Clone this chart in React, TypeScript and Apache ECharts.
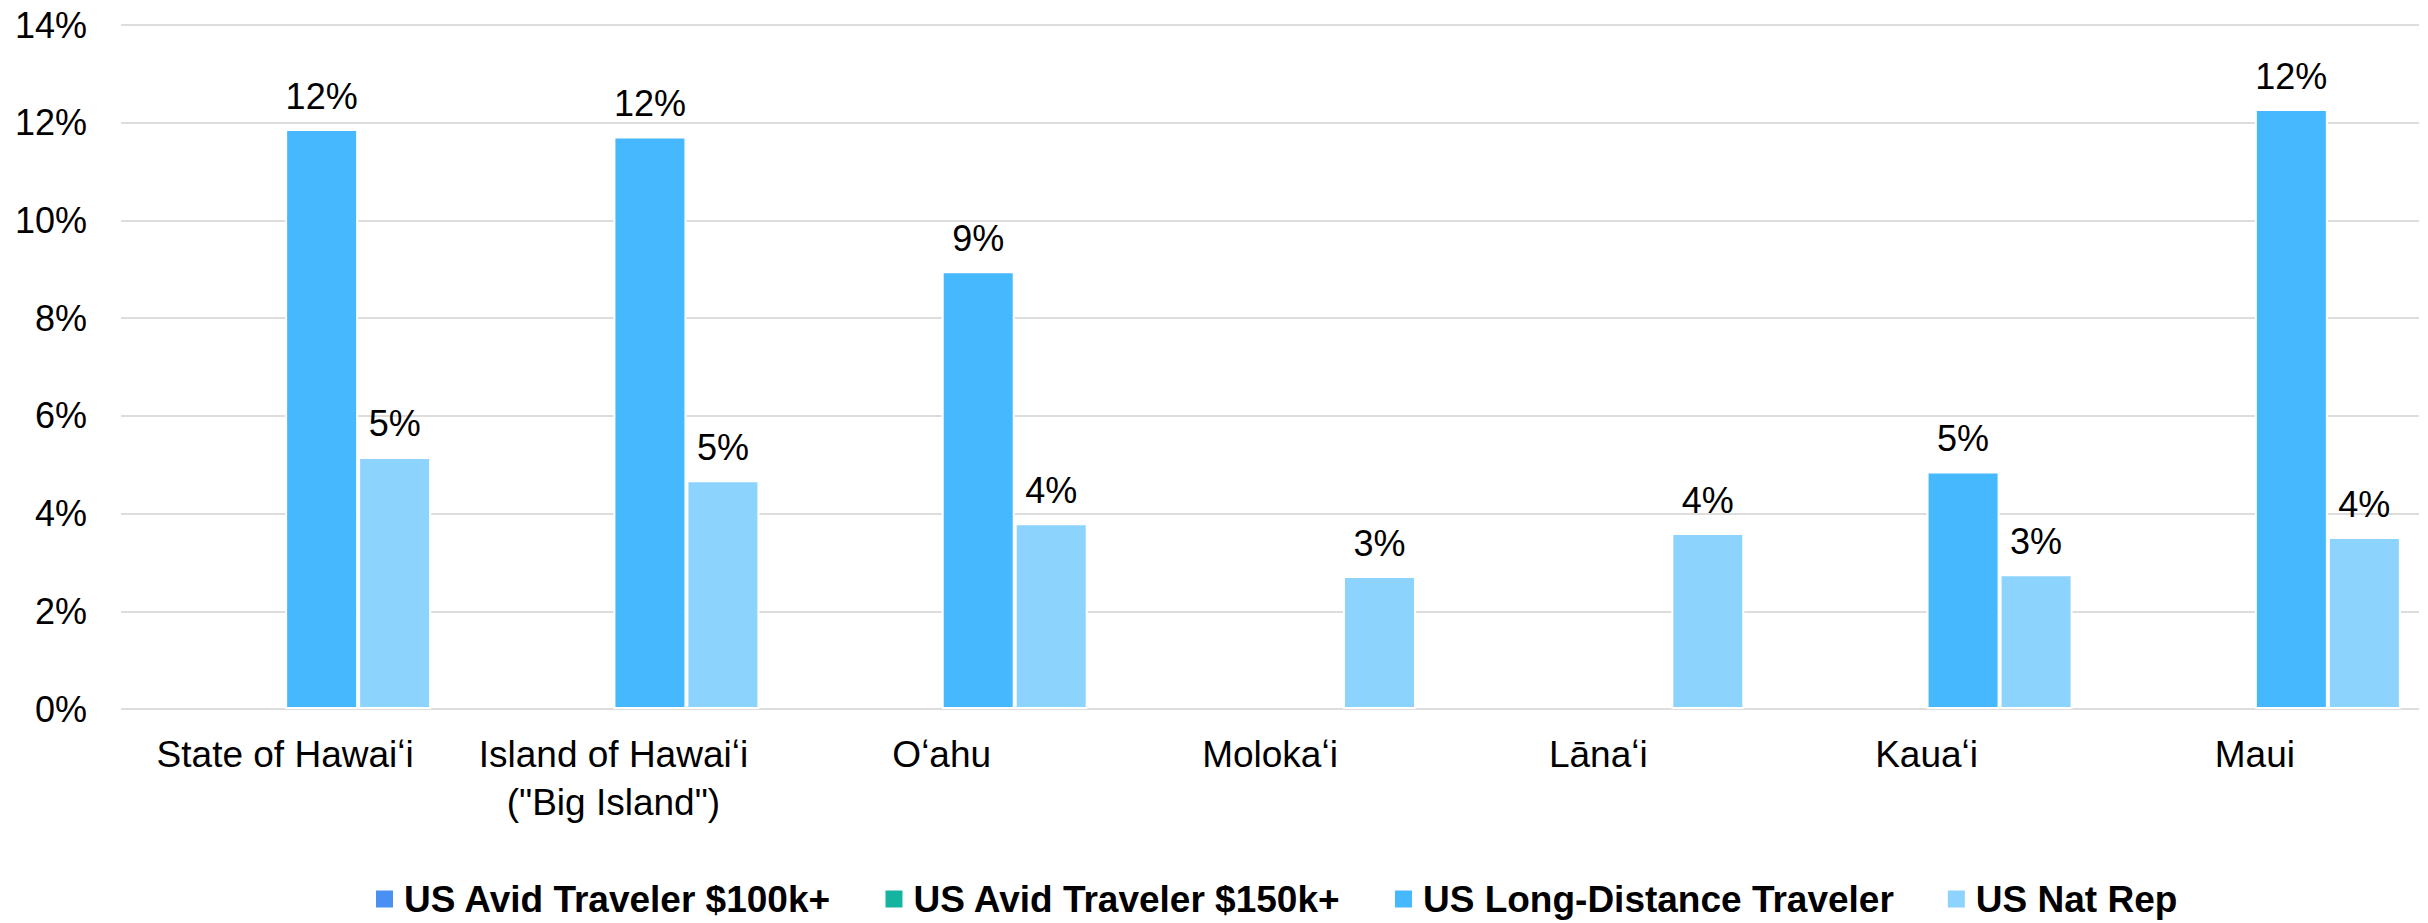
import React, { useEffect, useRef } from "react";
import * as echarts from "echarts";

const categories = [
  "State of Hawaiʻi",
  "Island of Hawaiʻi\n(\"Big Island\")",
  "Oʻahu",
  "Molokaʻi",
  "Lānaʻi",
  "Kauaʻi",
  "Maui",
];

const seriesNames = [
  "US Avid Traveler $100k+",
  "US Avid Traveler $150k+",
  "US Long-Distance Traveler",
  "US Nat Rep",
];

const avid100k: (number | null)[] = [null, null, null, null, null, null, null];
const avid150k: (number | null)[] = [null, null, null, null, null, null, null];
const longDistance: (number | null)[] = [11.87, 11.72, 8.96, null, null, 4.86, 12.28];
const natRep: (number | null)[] = [5.16, 4.68, 3.8, 2.72, 3.6, 2.76, 3.52];

const seriesColors = ["#4A90F2", "#14B4A0", "#45B8FE", "#8CD3FE"];

const yTicks = { min: 0, max: 14, interval: 2 };

const FONT = "'Liberation Sans', Arial, sans-serif";

export default function App() {
  const ref = useRef<HTMLDivElement>(null);

  useEffect(() => {
    if (!ref.current) return;
    const chart = echarts.init(ref.current, undefined, { renderer: "svg" });
    const datasets = [avid100k, avid150k, longDistance, natRep];
    chart.setOption({
      animation: false,
      backgroundColor: "#ffffff",
      textStyle: { fontFamily: FONT },
      grid: { left: 121, right: 9, top: 25, bottom: 214, containLabel: false },
      legend: {
        data: seriesNames,
        left: 374,
        top: 879,
        padding: 0,
        icon: "rect",
        itemWidth: 19,
        itemHeight: 19,
        itemGap: 52,
        textStyle: {
          fontFamily: FONT,
          fontSize: 37,
          lineHeight: 40,
          fontWeight: "bold",
          color: "#000000",
          padding: [0, 0, 0, 5],
        },
      },
      xAxis: {
        type: "category",
        data: categories,
        axisLine: { show: false },
        axisTick: { show: false },
        axisLabel: {
          interval: 0,
          margin: 21,
          fontFamily: FONT,
          fontSize: 37,
          lineHeight: 48,
          color: "#000000",
        },
      },
      yAxis: {
        type: "value",
        min: yTicks.min,
        max: yTicks.max,
        interval: yTicks.interval,
        axisLine: { show: false },
        axisTick: { show: false },
        splitLine: { lineStyle: { color: "#DDDDDD", width: 2 } },
        axisLabel: {
          formatter: "{value}%",
          margin: 34,
          fontFamily: FONT,
          fontSize: 36,
          color: "#000000",
        },
      },
      series: seriesNames.map((name, i) => ({
        name,
        type: "bar",
        data: datasets[i],
        barWidth: 73,
        barGap: "0%",
        itemStyle: { color: seriesColors[i], borderColor: "#ffffff", borderWidth: 2 },
        label: {
          show: true,
          position: "top",
          distance: 15,
          fontFamily: FONT,
          fontSize: 36,
          lineHeight: 36,
          color: "#000000",
          formatter: (p: any) => (p.value == null ? "" : Math.round(p.value) + "%"),
        },
      })),
    });
    return () => chart.dispose();
  }, []);

  return (
    <div
      ref={ref}
      style={{ position: "absolute", left: 0, top: 0, width: 2428, height: 923 }}
    />
  );
}
